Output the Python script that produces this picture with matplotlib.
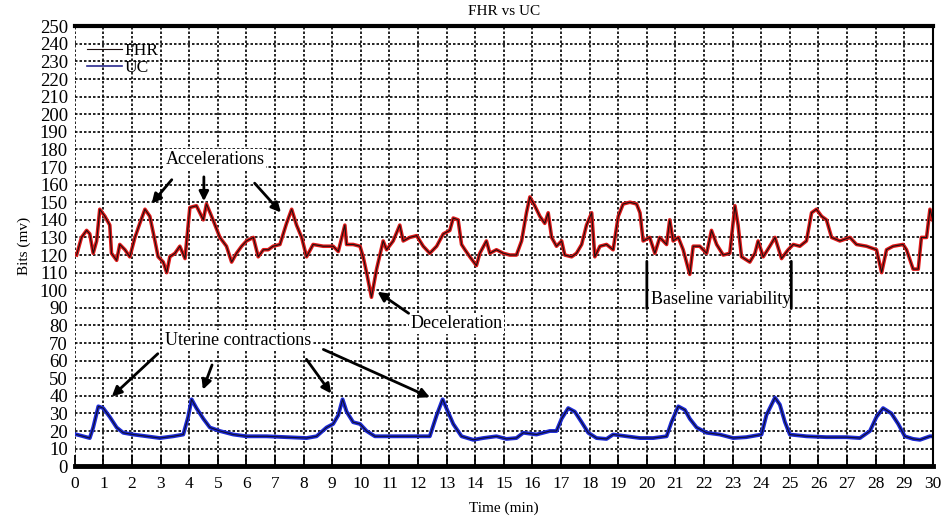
import matplotlib
matplotlib.use("Agg")
import matplotlib.pyplot as plt

plt.rcParams['font.family'] = ['Liberation Serif', 'DejaVu Serif']

# FHR trace (time in minutes, bits)
fhr_t = [0.06, 0.23, 0.41, 0.52, 0.64, 0.76, 0.87, 1.05, 1.22, 1.28, 1.46, 1.57, 1.75, 1.92,
         2.10, 2.27, 2.45, 2.62, 2.80, 2.91, 3.09, 3.21, 3.32, 3.50, 3.67, 3.85, 4.02, 4.25,
         4.49, 4.60, 4.78, 4.90, 5.07, 5.30, 5.48, 5.65, 5.83, 6.00, 6.24, 6.41, 6.59, 6.76,
         6.93, 7.17, 7.40, 7.58, 7.75, 7.93, 8.10, 8.33, 8.68, 9.03, 9.21, 9.44, 9.50, 9.73,
         9.97, 10.08, 10.20, 10.37, 10.55, 10.78, 10.90, 11.13, 11.36, 11.48, 11.71, 11.95,
         12.18, 12.41, 12.65, 12.88, 13.11, 13.23, 13.40, 13.52, 13.64, 13.81, 14.04, 14.16,
         14.39, 14.51, 14.74, 14.98, 15.21, 15.44, 15.62, 15.79, 15.91, 16.08, 16.26, 16.43,
         16.55, 16.67, 16.84, 17.02, 17.13, 17.37, 17.54, 17.72, 17.89, 18.07, 18.18, 18.36,
         18.59, 18.82, 19.00, 19.17, 19.41, 19.64, 19.76, 19.87, 20.10, 20.28, 20.45, 20.69,
         20.80, 20.92, 21.10, 21.27, 21.50, 21.62, 21.85, 22.09, 22.26, 22.44, 22.67, 22.90,
         23.08, 23.19, 23.31, 23.60, 23.78, 23.89, 24.07, 24.30, 24.48, 24.71, 24.94, 25.12,
         25.35, 25.58, 25.76, 25.93, 26.11, 26.28, 26.46, 26.75, 27.10, 27.33, 27.68, 28.03,
         28.21, 28.38, 28.61, 28.96, 29.08, 29.31, 29.49, 29.60, 29.78, 29.90, 30.00]
fhr_v = [120, 130, 134, 132, 121, 128, 146, 142, 137, 121, 117, 126, 123, 119,
         130, 138, 146, 142, 128, 119, 116, 110, 119, 121, 125, 118, 147, 148,
         140, 149, 142, 137, 130, 125, 116, 121, 125, 128, 130, 119, 123, 123,
         125, 126, 138, 146, 137, 130, 119, 126, 125, 125, 122, 137, 126, 126,
         125, 119, 110, 96, 112, 128, 123, 128, 137, 128, 130, 131,
         125, 121, 125, 132, 134, 141, 140, 126, 123, 119, 114, 121,
         128, 121, 123, 121, 120, 120, 128, 144, 153, 148, 142, 138,
         144, 130, 125, 128, 120, 119, 121, 126, 137, 144, 119, 125,
         126, 123, 142, 149, 150, 149, 144, 128, 130, 121, 130, 126,
         140, 128, 130, 123, 109, 125, 125, 121, 134, 126, 120, 121,
         148, 137, 119, 116, 121, 128, 119, 125, 130, 118, 123, 126,
         125, 128, 144, 146, 142, 140, 130, 128, 130, 126, 125, 123,
         110, 123, 125, 126, 123, 112, 112, 130, 130, 146, 140]

# UC trace
uc_t = [0.06, 0.29, 0.52, 0.64, 0.82, 0.99, 1.22, 1.46, 1.69, 2.04, 2.51, 2.97, 3.44, 3.79,
        3.96, 4.08, 4.25, 4.49, 4.72, 5.07, 5.54, 6.00, 6.70, 7.40, 8.10, 8.45, 8.80, 9.03,
        9.21, 9.36, 9.50, 9.73, 9.97, 10.20, 10.49, 10.78, 11.25, 11.83, 12.41, 12.65, 12.86,
        12.99, 13.23, 13.52, 13.93, 14.28, 14.74, 15.09, 15.44, 15.68, 16.14, 16.61, 16.84,
        17.02, 17.25, 17.48, 17.72, 17.95, 18.24, 18.59, 18.82, 19.29, 19.76, 20.22, 20.69,
        20.86, 21.10, 21.33, 21.50, 21.74, 22.09, 22.55, 23.02, 23.48, 24.01, 24.18, 24.48,
        24.65, 24.83, 25.00, 25.58, 26.28, 26.98, 27.45, 27.80, 28.03, 28.26, 28.55, 28.79,
        29.02, 29.31, 29.55, 29.90, 30.00]
uc_v = [18, 17, 16, 22, 34, 33, 28, 22, 19, 18, 17, 16, 17, 18,
        28, 38, 33, 27, 22, 20, 18, 17, 17, 16.5, 16, 17, 22, 24,
        29, 38, 31, 25, 24, 20, 17, 17, 17, 17, 17, 29, 38,
        33, 24, 17, 15, 16, 17, 15.5, 16, 19, 18, 20, 20,
        27, 33, 31, 25, 19, 16, 15.5, 18, 17, 16, 16, 17,
        25, 34, 32, 27, 22, 19, 18, 16, 16.5, 18, 29, 39,
        35, 25, 18, 17, 16.5, 16.5, 16, 20, 28, 33, 30, 24,
        17, 15.5, 15, 17, 17]

x_ticks = list(range(0, 31))
y_ticks = list(range(0, 251, 10))

fig = plt.figure(figsize=(9.48, 5.25), dpi=100)
ax = fig.add_axes([0.079, 0.112, 0.905, 0.838])

ax.plot(fhr_t, fhr_v, color='#e01818', lw=2.6)
ax.plot(fhr_t, fhr_v, color='#201010', lw=0.8, label='FHR')
ax.plot(uc_t, uc_v, color='#1c2ad8', lw=2.8)
ax.plot(uc_t, uc_v, color='#101030', lw=0.8)
ax.plot([], [], color='#2a2a90', lw=1.2, label='UC')

ax.set_xlim(0, 30)
ax.set_ylim(0, 250)
ax.set_xticks(x_ticks)
ax.set_yticks(y_ticks)
ax.grid(True, color='black', linestyle=(0, (1.5, 1.2)), lw=1.2)
ax.tick_params(axis='x', direction='in', length=8, width=1.3, labelsize=12.5, pad=7)
ax.tick_params(axis='y', length=0, labelsize=13.5, pad=5)

ax.spines['left'].set_visible(False)
ax.spines['top'].set_linewidth(3)
ax.spines['bottom'].set_linewidth(3.5)
ax.spines['right'].set_linewidth(1.5)

ax.set_title('FHR vs UC', fontsize=11, pad=8)
ax.set_xlabel('Time (min)', fontsize=11, labelpad=7)
ax.set_ylabel('Bits (mv)', fontsize=11, labelpad=6)

leg = ax.legend(loc='upper left', bbox_to_anchor=(0.0, 0.99), frameon=False,
                fontsize=12.5, handlelength=2.0, handletextpad=0.15, labelspacing=0.05,
                borderaxespad=0.3)

box = dict(facecolor='white', edgecolor='none', pad=1)
arrow = dict(arrowstyle='-|>', color='black', lw=2, mutation_scale=14)

ax.text(4.9, 174.5, 'Accelerations', fontsize=13, ha='center', va='center', bbox=box)
for start, end in [((3.45, 164), (2.62, 148)), ((4.51, 166), (4.51, 149)),
                   ((6.22, 162), (7.27, 143))]:
    ax.annotate('', xy=end, xytext=start, arrowprops=arrow)

ax.text(13.36, 81, 'Deceleration', fontsize=13, ha='center', va='center', bbox=box)
ax.annotate('', xy=(10.5, 100), xytext=(11.75, 86), arrowprops=arrow)

ax.text(22.6, 95, 'Baseline variability', fontsize=13, ha='center', va='center', bbox=box)
for xv in (20.0, 25.05):
    ax.annotate('', xy=(xv, 118), xytext=(xv, 88),
                arrowprops=dict(arrowstyle='-', color='black', lw=2))

ax.text(5.7, 71.5, 'Uterine contractions', fontsize=13, ha='center', va='center', bbox=box)
for start, end in [((2.97, 65), (1.22, 38.5)), ((4.83, 59), (4.44, 42)),
                   ((8.04, 62), (9.02, 40)), ((8.6, 67), (12.5, 38.5))]:
    ax.annotate('', xy=end, xytext=start, arrowprops=arrow)

fig.savefig('out.png', dpi=100)
